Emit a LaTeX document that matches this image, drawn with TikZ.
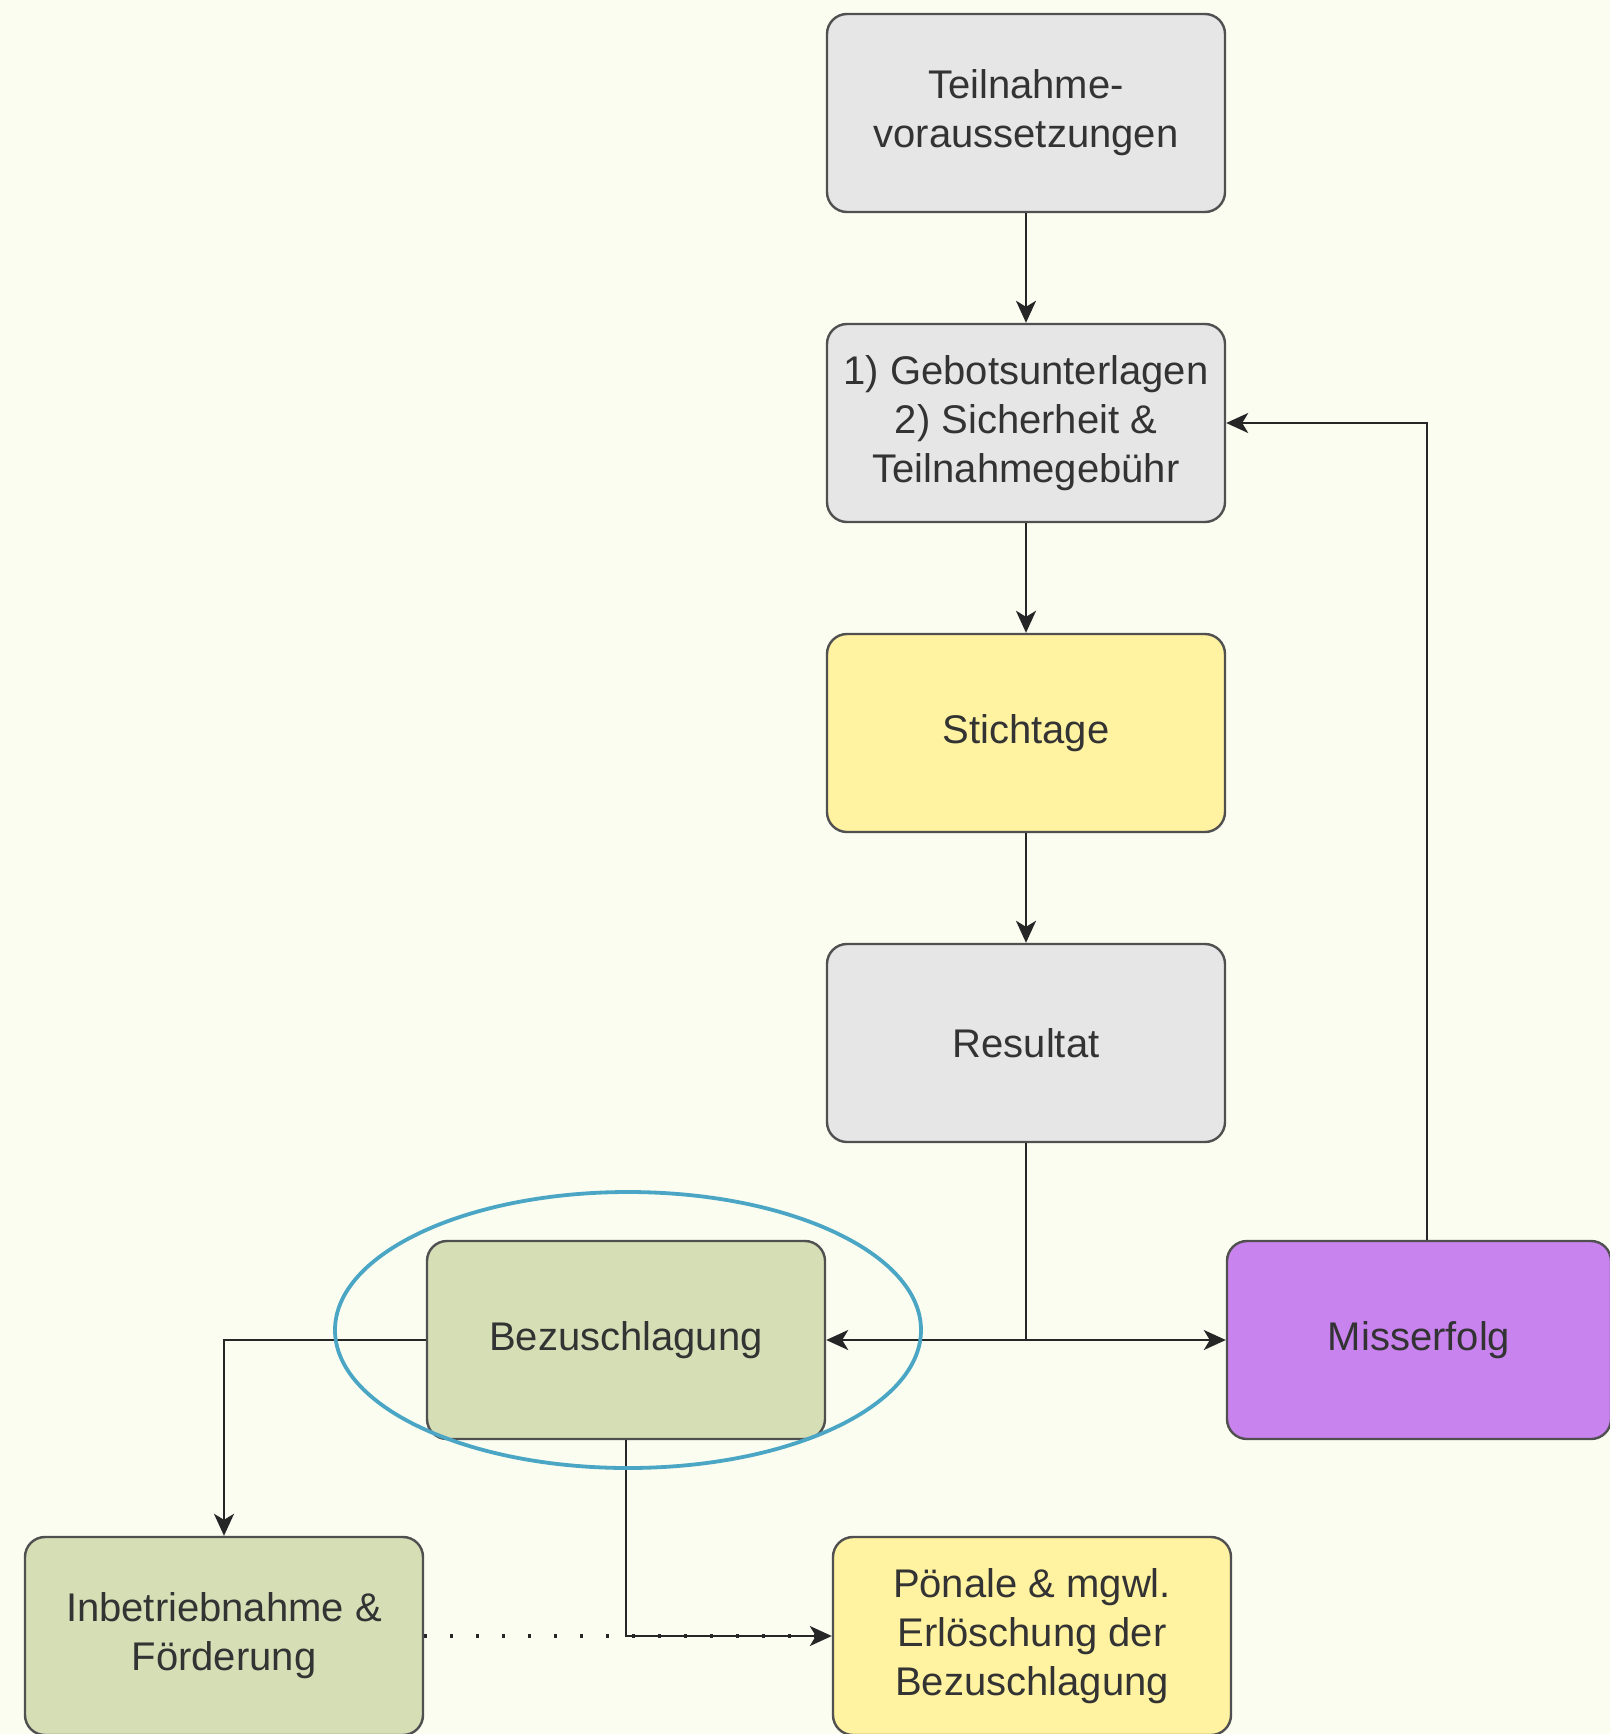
\documentclass[tikz,border=0pt]{standalone}
\usepackage{fontspec}
\setmainfont{Liberation Sans}
\usetikzlibrary{arrows.meta}
\definecolor{bg}{HTML}{FAFDF0}
\definecolor{edge}{HTML}{505050}
\definecolor{txt}{HTML}{333333}
\definecolor{grayfill}{HTML}{E6E6E6}
\definecolor{yellowfill}{HTML}{FFF2A1}
\definecolor{greenfill}{HTML}{D6DEB6}
\definecolor{purplefill}{HTML}{C983EE}
\definecolor{ringcol}{HTML}{4AA6C4}
\begin{document}
\begin{tikzpicture}[x=0.5pt,y=-0.5pt,
  box/.style={draw=edge, line width=1.2pt, rounded corners=10pt,
    minimum width=199pt, minimum height=99pt, align=center,
    font=\fontsize{20}{24.5}\selectfont, text=txt, inner sep=0pt},
  conn/.style={draw=black!85, line width=1.1pt},
  arr/.style={conn, -{Stealth[length=11pt,width=10pt,inset=3pt]}},
  dotline/.style={draw=black!85, line width=1.6pt, dash pattern=on 1.6pt off 11.4pt},
  ring/.style={draw=ringcol, line width=1.9pt}]
\useasboundingbox (0,0) rectangle (1610,1734);
\fill[bg] (0,0) rectangle (1610,1734);
\clip (0,0) rectangle (1610,1734);

\node[box, fill=grayfill] (t1) at (1026,113) {Teilnahme-\\voraussetzungen};
\node[box, fill=grayfill] (t2) at (1026,423) {1) Gebotsunterlagen\\2) Sicherheit \&\\Teilnahmegebühr};
\node[box, fill=yellowfill] (st) at (1026,733) {Stichtage};
\node[box, fill=grayfill] (res) at (1026,1043) {Resultat};
\node[box, fill=greenfill] (bez) at (626,1340) {Bezuschlagung};
\node[box, fill=purplefill, minimum width=192pt] (mis) at (1419,1340) {Misserfolg};
\node[box, fill=greenfill] (inb) at (224,1636) {Inbetriebnahme \&\\Förderung};
\node[box, fill=yellowfill] (pon) at (1032,1636) {Pönale \& mgwl.\\Erlöschung der\\Bezuschlagung};

\coordinate (j) at (1026,1340);

\draw[arr] (t1) -- (t2);
\draw[arr] (t2) -- (st);
\draw[arr] (st) -- (res);
\draw[conn] (res.south) -- (j);
\draw[arr] (j) -- (bez.east);
\draw[arr] (j) -- (mis.west);
\draw[arr] ([xshift=4pt]mis.north) |- (t2.east);
\draw[arr] (bez.west) -| (inb.north);
\draw[dotline] (inb.east) -- (pon.west);
\draw[arr] (bez.south) |- (pon.west);

\draw[ring] (628,1330) ellipse [x radius=146.5pt, y radius=69pt];
\end{tikzpicture}
\end{document}
